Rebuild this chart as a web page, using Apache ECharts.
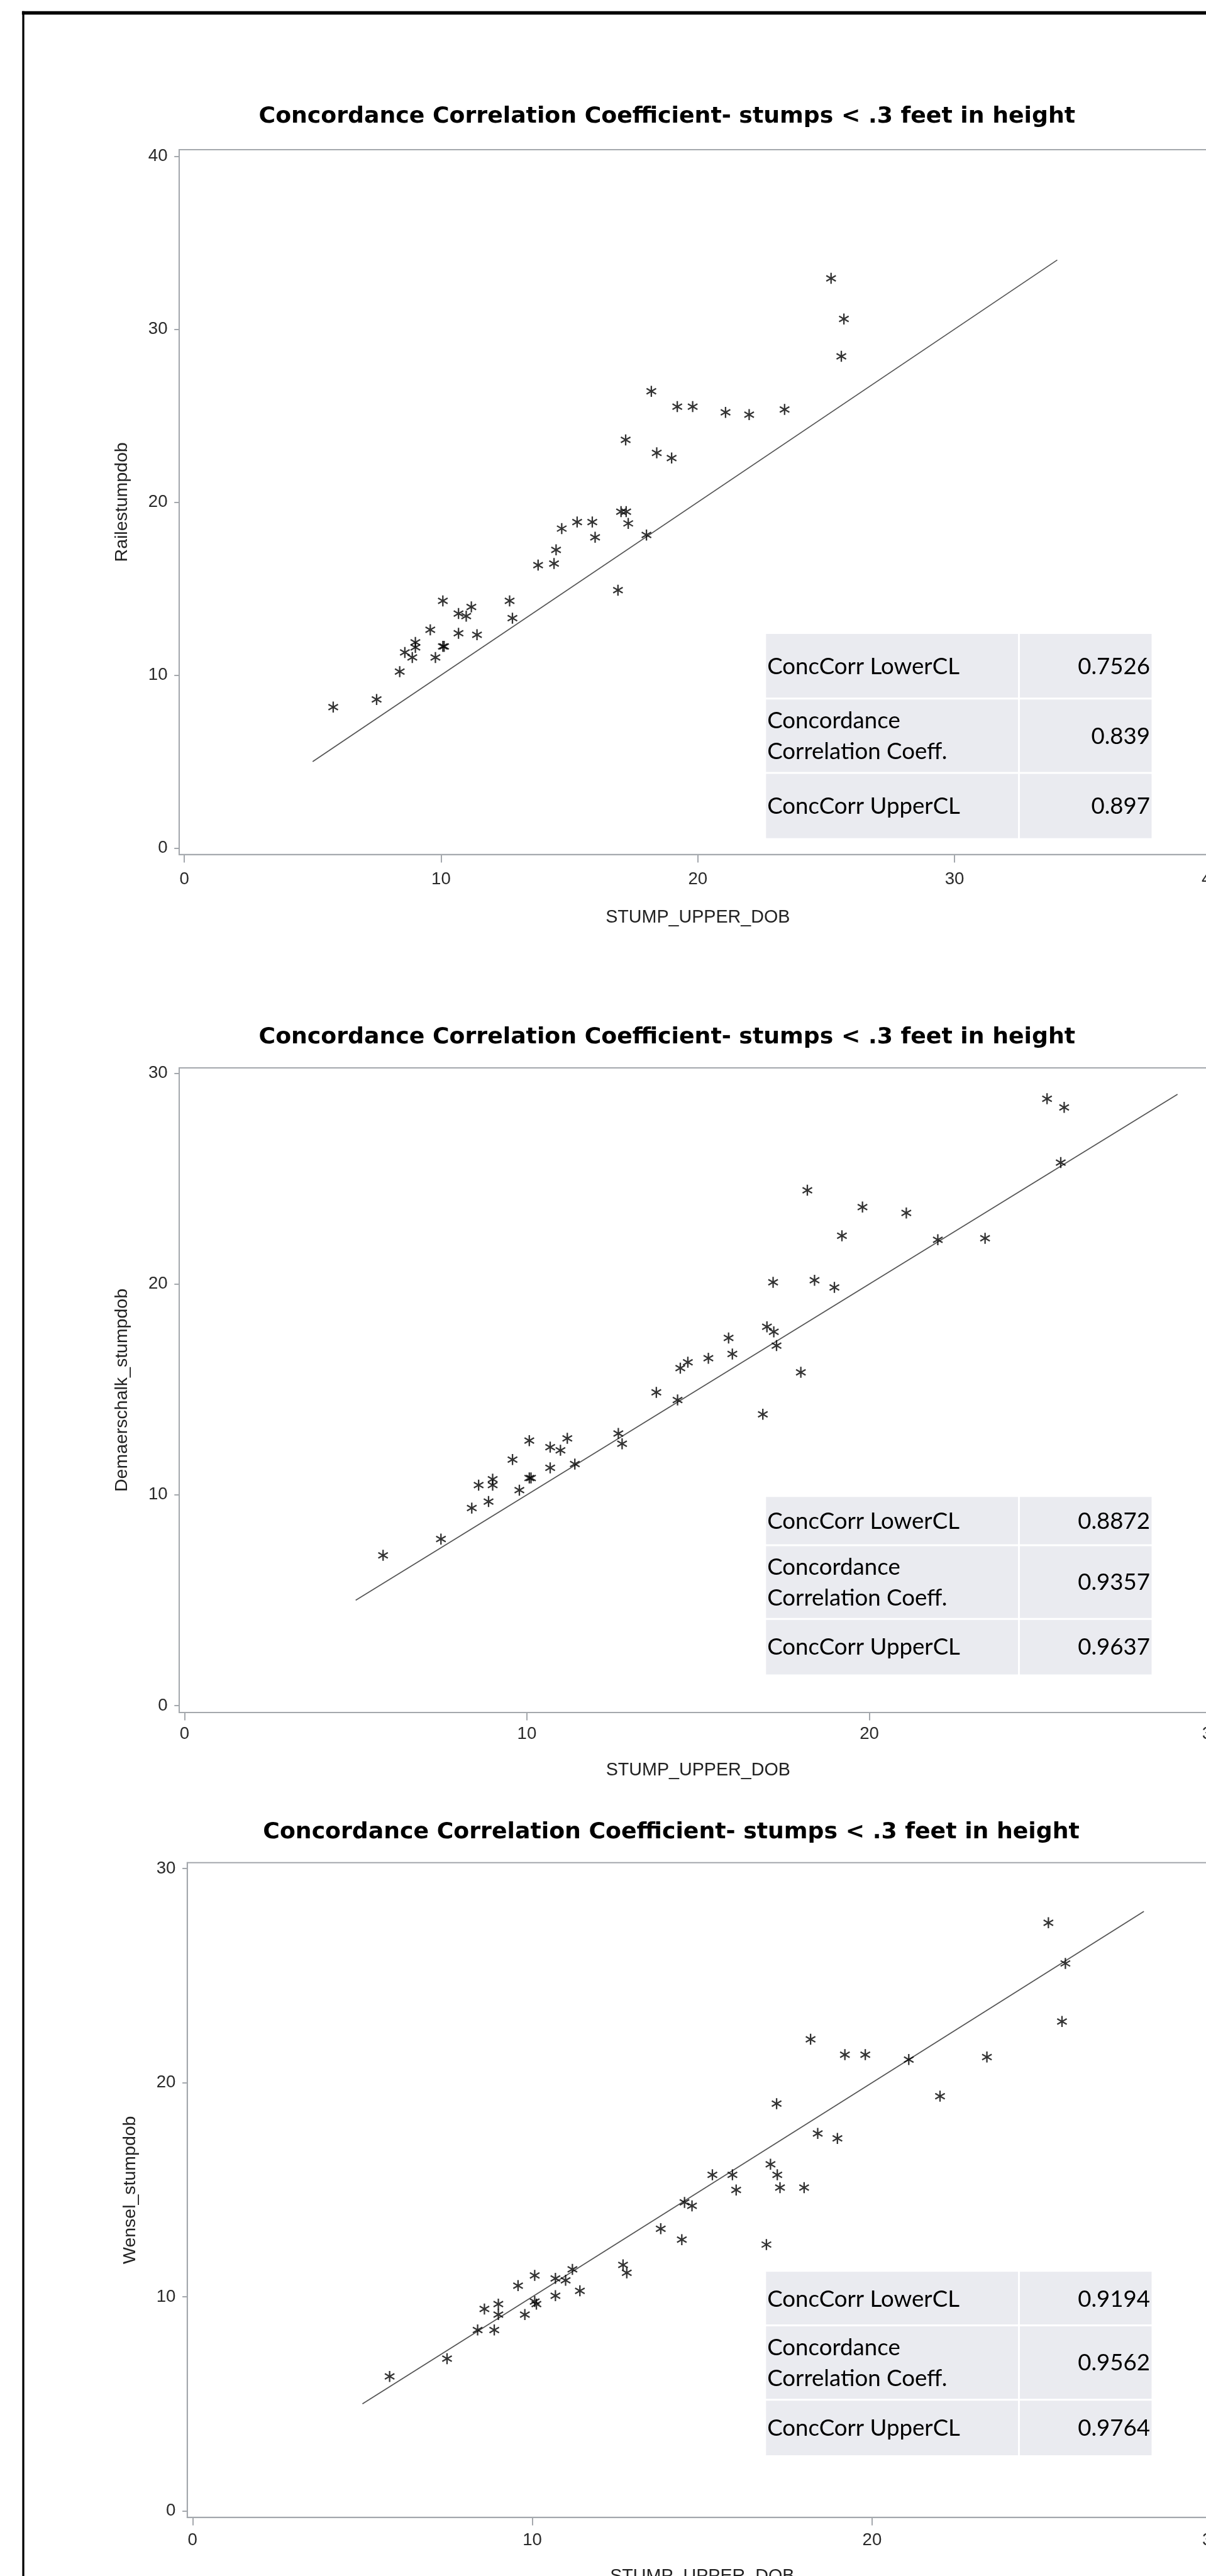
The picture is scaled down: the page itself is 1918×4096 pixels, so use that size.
<!DOCTYPE html>
<html>
<head>
<meta charset="utf-8">
<script src="https://cdn.jsdelivr.net/npm/echarts@6/dist/echarts.min.js"></script>
<style>
html,body{margin:0;padding:0;background:#ffffff;overflow:hidden;}
#c{width:1918px;height:4096px;}
</style>
</head>
<body>
<div id="c"></div>
<script>
// ---------------- DATA ----------------
const chartTitle = 'Concordance Correlation Coefficient- stumps < .3 feet in height';
const xAxisName = 'STUMP_UPPER_DOB';
const yAxisNames = ['Railestumpdob', 'Demaerschalk_stumpdob', 'Wensel_stumpdob'];

const stumpUpperDob = [5.8, 7.49, 8.39, 8.59, 8.88, 9.0, 9.0, 9.58, 9.78, 10.07, 10.07, 10.12, 10.68, 10.68, 10.98, 11.18, 11.4,
  12.67, 12.78, 13.78, 14.4, 14.48, 14.7, 15.3, 15.89, 16.0, 16.89, 17.01, 17.19, 17.21, 17.29, 18.0, 18.19, 18.4, 18.98,
  19.2, 19.8, 21.08, 22.0, 23.38, 25.19, 25.59, 25.69];
const railesStumpDob = [8.15, 8.59, 10.2, 11.31, 11.02, 11.89, 11.6, 12.62, 11.02, 14.29, 11.66, 11.66, 13.56, 12.42, 13.41, 13.94, 12.33,
  14.29, 13.29, 16.36, 16.45, 17.24, 18.47, 18.85, 18.85, 17.97, 14.91, 19.45, 23.6, 19.45, 18.77, 18.1, 26.41, 22.85, 22.55,
  25.52, 25.52, 25.19, 25.06, 25.36, 32.94, 28.43, 30.59];
const demaerschalkStumpDob = [7.13, 7.9, 9.37, 10.46, 9.68, 10.74, 10.46, 11.67, 10.22, 12.57, 10.8, 10.8, 12.26, 11.28, 12.11, 12.68, 11.46,
  12.91, 12.42, 14.86, 14.5, 16.01, 16.29, 16.48, 17.44, 16.68, 13.82, 17.97, 20.08, 17.73, 17.08, 15.81, 24.45, 20.18, 19.84,
  22.29, 23.65, 23.37, 22.1, 22.17, 28.79, 25.76, 28.38];
const wenselStumpDob = [6.28, 7.11, 8.45, 9.43, 8.45, 9.66, 9.17, 10.52, 9.17, 11.0, 9.78, 9.66, 10.86, 10.05, 10.77, 11.28, 10.28,
  11.49, 11.12, 13.18, 12.67, 14.41, 14.25, 15.7, 15.7, 14.99, 12.44, 16.19, 19.02, 15.7, 15.1, 15.1, 22.03, 17.63, 17.4,
  21.31, 21.31, 21.08, 19.37, 21.2, 27.47, 22.86, 25.57];

const xTickValues = [[0, 10, 20, 30, 40], [0, 10, 20, 30], [0, 10, 20, 30]];
const yTickValues = [[0, 10, 20, 30, 40], [0, 10, 20, 30], [0, 10, 20, 30]];

const identityFrom = [5, 5, 5];
const identityTo = [34, 29, 28];

const statNames = ['ConcCorr LowerCL', 'Concordance\nCorrelation Coeff.', 'ConcCorr UpperCL'];
const concCorrLowerCL = [0.7526, 0.8872, 0.9194];
const concCorrCoeff = [0.839, 0.9357, 0.9562];
const concCorrUpperCL = [0.897, 0.9637, 0.9764];

// ---------------- LAYOUT (reference pixels, scaled by S) ----------------
const S = 0.9692;
const layout = [
  {left: 294, top: 245.6, right: 1996.1, bottom: 1402, xMin: -0.2, xMax: 40.2, yMin: -0.377, yMax: 40.377,
   titleX: 1094.5, titleY: 193.5, xNameGap: 88.5, xLabelMargin: 26, rows: [1040, 1146, 1268, 1375]},
  {left: 294.1, top: 1752, right: 1997, bottom: 2809.5, xMin: -0.153, xMax: 30.153, yMin: -0.327, yMax: 30.252,
   titleX: 1094.5, titleY: 1704.5, xNameGap: 80.3, xLabelMargin: 21.5, rows: [2456, 2535, 2656, 2747]},
  {left: 307.3, top: 3055.8, right: 1997.2, bottom: 4130, xMin: -0.156, xMax: 30.156, yMin: -0.302, yMax: 30.279,
   titleX: 1101.5, titleY: 3008.5, xNameGap: 82, xLabelMargin: 23.5, rows: [3727, 3815, 3937, 4028]}
];
const tableCols = [1257, 1672, 1889.7];
const axisGray = '#A4A8AD';
const tickFont = 'Liberation Sans';
const yValues = [railesStumpDob, demaerschalkStumpDob, wenselStumpDob];
const asterisk = 'path://M10,0L10,20M1.34,5L18.66,15M1.34,15L18.66,5';

const grids = [], xAxes = [], yAxes = [], series = [], titles = [], graphics = [];

layout.forEach((p, k) => {
  grids.push({
    left: p.left * S, top: p.top * S,
    width: (p.right - p.left) * S, height: (p.bottom - p.top) * S,
    show: true, borderColor: axisGray, borderWidth: 2, backgroundColor: 'transparent',
    containLabel: false, outerBoundsMode: 'none'
  });
  xAxes.push({
    type: 'value', gridIndex: k, min: p.xMin, max: p.xMax,
    name: xAxisName, nameLocation: 'middle', nameGap: p.xNameGap * S, nameMoveOverlap: false,
    nameTextStyle: {fontFamily: tickFont, fontSize: 29.6 * S, color: '#222'},
    axisLine: {show: true, onZero: false, lineStyle: {color: axisGray, width: 2}},
    axisTick: {show: true, customValues: xTickValues[k], length: 13 * S, lineStyle: {color: axisGray, width: 2}},
    axisLabel: {show: true, customValues: xTickValues[k], margin: p.xLabelMargin * S,
      fontFamily: tickFont, fontSize: 28.5 * S, color: '#2a2a2a'},
    splitLine: {show: false}
  });
  yAxes.push({
    type: 'value', gridIndex: k, min: p.yMin, max: p.yMax,
    name: yAxisNames[k], nameLocation: 'middle', nameGap: 79.5 * S, nameMoveOverlap: false,
    nameTextStyle: {fontFamily: tickFont, fontSize: 29.4 * S, color: '#222'},
    axisLine: {show: true, onZero: false, lineStyle: {color: axisGray, width: 2}},
    axisTick: {show: true, customValues: yTickValues[k], length: 8 * S, lineStyle: {color: axisGray, width: 2}},
    axisLabel: {show: true, customValues: yTickValues[k], margin: 19 * S,
      fontFamily: tickFont, fontSize: 28.5 * S, color: '#2a2a2a'},
    splitLine: {show: false}
  });
  series.push({
    type: 'line', xAxisIndex: k, yAxisIndex: k,
    data: [[identityFrom[k], identityFrom[k]], [identityTo[k], identityTo[k]]],
    showSymbol: false, symbol: 'none', silent: true, z: 1,
    lineStyle: {color: '#555555', width: 1.7}
  });
  series.push({
    type: 'scatter', xAxisIndex: k, yAxisIndex: k,
    data: stumpUpperDob.map((x, i) => [x, yValues[k][i]]),
    symbol: asterisk, symbolSize: 17.5, symbolKeepAspect: true, z: 2,
    itemStyle: {color: 'rgba(0,0,0,0)', borderColor: '#000', borderWidth: 2.3}
  });
  const tfs = 37.4 * S;
  titles.push({
    text: chartTitle, left: p.titleX * S, top: p.titleY * S - tfs / 2 - 2, textAlign: 'center', padding: 0,
    textStyle: {fontFamily: 'DejaVu Sans', fontWeight: 'bold', fontSize: tfs, lineHeight: tfs, color: '#000'}
  });

  // statistics inset table
  const vals = [concCorrLowerCL[k], concCorrCoeff[k], concCorrUpperCL[k]];
  for (let r = 0; r < 3; r++) {
    const y0 = p.rows[r] + (r > 0 ? 1.5 : 0);
    const y1 = p.rows[r + 1] - (r < 2 ? 1.5 : 0);
    graphics.push({type: 'rect', shape: {x: tableCols[0] * S, y: y0 * S, width: (tableCols[1] - 1.5 - tableCols[0]) * S, height: (y1 - y0) * S},
      style: {fill: '#EAEBF0'}, silent: true});
    graphics.push({type: 'rect', shape: {x: (tableCols[1] + 1.5) * S, y: y0 * S, width: (tableCols[2] - tableCols[1] - 1.5) * S, height: (y1 - y0) * S},
      style: {fill: '#EAEBF0'}, silent: true});
    const cy = (p.rows[r] + p.rows[r + 1]) / 2 * S + 1;
    graphics.push({type: 'text', x: (tableCols[0] + 2) * S, y: cy, silent: true,
      style: {text: statNames[r], fontFamily: 'Lato', fontSize: 37.8 * S, lineHeight: 50 * S, fill: '#000',
        textAlign: 'left', textVerticalAlign: 'middle', verticalAlign: 'middle'}});
    graphics.push({type: 'text', x: (tableCols[2] - 2.5) * S, y: cy, silent: true,
      style: {text: String(vals[r]), fontFamily: 'Lato', fontSize: 37.8 * S, lineHeight: 50 * S, fill: '#000',
        textAlign: 'right', textVerticalAlign: 'middle', verticalAlign: 'middle'}});
  }
});

// outer frame of the page
graphics.push({type: 'rect', shape: {x: 36 * S, y: 18.3 * S, width: 2000, height: 5.7 * S}, style: {fill: '#000'}, silent: true});
graphics.push({type: 'rect', shape: {x: 36.5 * S, y: 18.3 * S, width: 3.4 * S, height: 4200}, style: {fill: '#000'}, silent: true});

const chart = echarts.init(document.getElementById('c'), null, {renderer: 'canvas'});
chart.setOption({
  animation: false,
  backgroundColor: '#ffffff',
  title: titles,
  grid: grids,
  xAxis: xAxes,
  yAxis: yAxes,
  series: series,
  graphic: {elements: graphics}
});
</script>
</body>
</html>
